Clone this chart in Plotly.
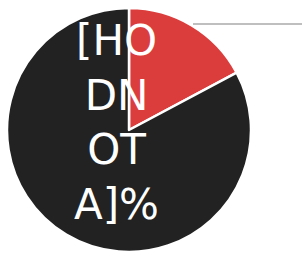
import plotly.graph_objects as go

labels = ["A", "B"]
values = [17.2, 82.8]
colors = ["#db3d3d", "#222222"]
label_text = "[HO<br>DN<br>OT<br>A]%"

W, H = 302, 253
cx, cy, r = 129, 130, 122

fig = go.Figure(go.Pie(
    labels=labels, values=values, sort=False, direction="clockwise", rotation=0,
    marker=dict(colors=colors, line=dict(color="white", width=2.5)),
    textinfo="none", hoverinfo="skip", showlegend=False,
    domain=dict(x=[max(0, (cx - r) / W), (cx + r) / W],
                y=[max(0, 1 - (cy + r) / H), min(1, 1 - (cy - r) / H)]),
))

fig.add_annotation(
    x=116 / W, y=1 - 122 / H, xref="paper", yref="paper",
    text=label_text, showarrow=False,
    font=dict(family="DejaVu Sans", size=42, color="white"),
    align="center", xanchor="center", yanchor="middle",
)

fig.add_shape(type="line", xref="paper", yref="paper",
              x0=193 / W, x1=1.0, y0=1 - 24 / H, y1=1 - 24 / H,
              line=dict(color="#aaaaaa", width=1.5))

fig.update_layout(width=W, height=H, margin=dict(l=0, r=0, t=0, b=0),
                  paper_bgcolor="white", plot_bgcolor="white")
fig.write_html("out.html", config={"displayModeBar": False},
               post_script="document.body.style.margin='0';document.body.style.overflow='hidden';")
